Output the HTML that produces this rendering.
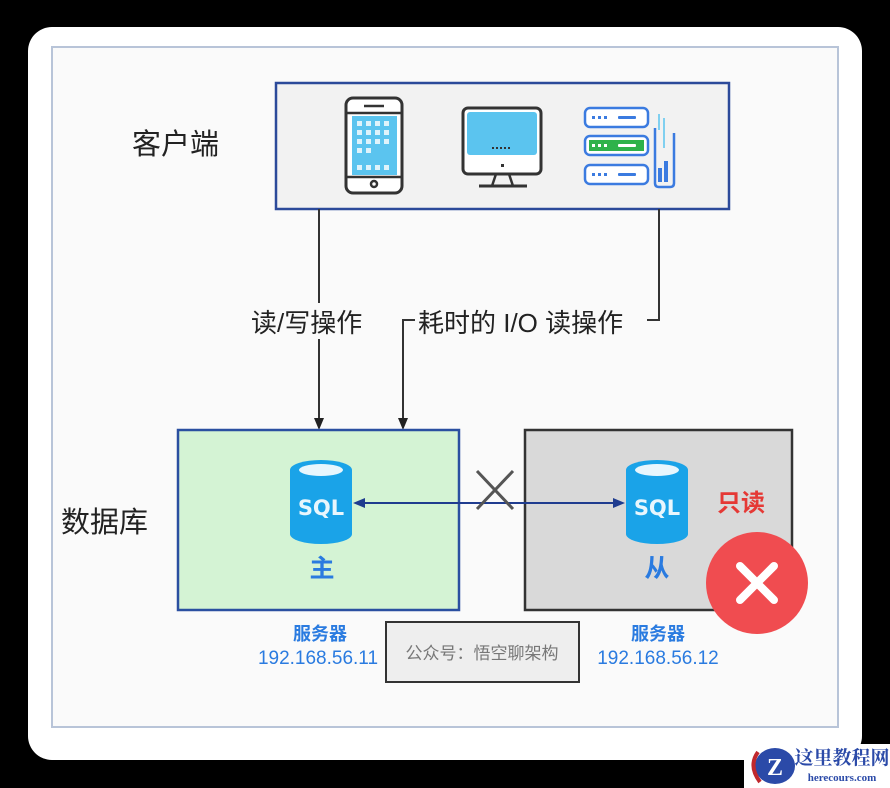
<!DOCTYPE html>
<html><head><meta charset="utf-8"><style>
html,body{margin:0;padding:0;background:#000;}
body{width:890px;height:788px;overflow:hidden;position:relative;font-family:"Liberation Sans","Noto Sans CJK SC",sans-serif;}
</style></head><body>
<svg width="890" height="788" viewBox="0 0 890 788" xmlns="http://www.w3.org/2000/svg" style="position:absolute;left:0;top:0">
<rect x="0" y="0" width="890" height="788" fill="#000"/>
<rect x="28" y="27" width="834" height="733" rx="24" fill="#fff"/>
<rect x="52" y="47" width="786" height="680" fill="#fafafa" stroke="#b8c4d8" stroke-width="2"/>
<g font-family="Liberation Sans, Noto Sans CJK SC, sans-serif">
<text x="132" y="154" font-size="29" fill="#222">客户端</text>
<text x="61" y="532" font-size="29" fill="#222">数据库</text>
</g>
<rect x="276" y="83" width="453" height="126" fill="#f2f2f2" stroke="#2c4a9a" stroke-width="2.5"/>
<rect x="346" y="98" width="56" height="95" rx="7" fill="#fff" stroke="#333" stroke-width="3"/>
<line x1="346" y1="113" x2="402" y2="113" stroke="#333" stroke-width="2.5"/>
<line x1="346" y1="177" x2="402" y2="177" stroke="#333" stroke-width="2.5"/>
<line x1="364" y1="106" x2="384" y2="106" stroke="#333" stroke-width="2.5"/>
<rect x="352" y="116" width="45" height="59" fill="#5bc4ef"/>
<g fill="#dff3fb">
<rect x="357" y="121" width="5" height="5"/><rect x="366" y="121" width="5" height="5"/><rect x="375" y="121" width="5" height="5"/><rect x="384" y="121" width="5" height="5"/>
<rect x="357" y="130" width="5" height="5"/><rect x="366" y="130" width="5" height="5"/><rect x="375" y="130" width="5" height="5"/><rect x="384" y="130" width="5" height="5"/>
<rect x="357" y="139" width="5" height="5"/><rect x="366" y="139" width="5" height="5"/><rect x="375" y="139" width="5" height="5"/><rect x="384" y="139" width="5" height="5"/>
<rect x="357" y="148" width="5" height="5"/><rect x="366" y="148" width="5" height="5"/>
<rect x="357" y="165" width="5" height="5"/><rect x="366" y="165" width="5" height="5"/><rect x="375" y="165" width="5" height="5"/><rect x="384" y="165" width="5" height="5"/>
</g>
<circle cx="374" cy="184" r="3" fill="none" stroke="#333" stroke-width="2.5"/>
<rect x="463" y="108" width="78" height="66" rx="5" fill="#fff" stroke="#333" stroke-width="3"/>
<rect x="467" y="112" width="70" height="43" rx="3" fill="#5bc4ef"/>
<g fill="#333"><rect x="492" y="147" width="2" height="2"/><rect x="496" y="147" width="2" height="2"/><rect x="500" y="147" width="2" height="2"/><rect x="504" y="147" width="2" height="2"/><rect x="508" y="147" width="2" height="2"/></g>
<rect x="501" y="164" width="3" height="3" fill="#333"/>
<path d="M496 174 L492 186 M509 174 L513 186" stroke="#333" stroke-width="2.5"/>
<line x1="479" y1="186" x2="527" y2="186" stroke="#333" stroke-width="3"/>
<g stroke="#3b7be0" stroke-width="2.5" fill="#fff">
<rect x="585" y="108" width="63" height="19" rx="5"/>
<rect x="585" y="136" width="63" height="19" rx="5"/>
<rect x="585" y="165" width="63" height="19" rx="5"/>
<path d="M655 128 L655 183 Q655 187 659 187 L670 187 Q674 187 674 183 L674 133" fill="none"/>
</g>
<rect x="589" y="140" width="55" height="11" fill="#2fb24a"/>
<g fill="#3b7be0"><rect x="592" y="116" width="3" height="3"/><rect x="598" y="116" width="3" height="3"/><rect x="604" y="116" width="3" height="3"/><rect x="618" y="116" width="18" height="3" rx="1"/>
<rect x="592" y="173" width="3" height="3"/><rect x="598" y="173" width="3" height="3"/><rect x="604" y="173" width="3" height="3"/><rect x="618" y="173" width="18" height="3" rx="1"/>
<rect x="658" y="168" width="4" height="14"/><rect x="664" y="161" width="4" height="21"/></g>
<g fill="#fff"><rect x="592" y="144" width="3" height="3"/><rect x="598" y="144" width="3" height="3"/><rect x="604" y="144" width="3" height="3"/><rect x="618" y="144" width="18" height="3" rx="1"/></g>
<path d="M659 114 L659 130 M664 118 L664 148" stroke="#5bc4ef" stroke-width="1.5"/>
<g stroke="#333" stroke-width="2" fill="none">
<line x1="319" y1="209" x2="319" y2="420"/>
<path d="M659 209 L659 320 L647 320"/>
<path d="M415 320 L403 320 L403 420"/>
</g>
<path d="M314 418 L319 430 L324 418 Z M398 418 L403 430 L408 418 Z" fill="#222"/>
<rect x="248" y="303" width="136" height="36" fill="#fafafa"/>
<text x="251" y="332" font-size="26" fill="#222" font-family="Liberation Sans, Noto Sans CJK SC, sans-serif">读/写操作</text>
<text x="418" y="332" font-size="26" fill="#222" font-family="Liberation Sans, Noto Sans CJK SC, sans-serif">耗时的 I/O 读操作</text>
<rect x="178" y="430" width="281" height="180" fill="#d4f3d4" stroke="#2a4fa0" stroke-width="2.5"/>
<rect x="525" y="430" width="267" height="180" fill="#d9d9d9" stroke="#333" stroke-width="2.5"/>
<g>
<path d="M290 470 L290 534 A31 10 0 0 0 352 534 L352 470 A31 10 0 0 0 290 470 Z" fill="#1aa3e8"/>
<ellipse cx="321" cy="470" rx="22" ry="6" fill="#e8f6fd"/>
<text x="321" y="515" font-size="21" font-weight="bold" fill="#e8f6fd" text-anchor="middle" font-family="DejaVu Sans, sans-serif">SQL</text>
<path d="M626 470 L626 534 A31 10 0 0 0 688 534 L688 470 A31 10 0 0 0 626 470 Z" fill="#1aa3e8"/>
<ellipse cx="657" cy="470" rx="22" ry="6" fill="#e8f6fd"/>
<text x="657" y="515" font-size="21" font-weight="bold" fill="#e8f6fd" text-anchor="middle" font-family="DejaVu Sans, sans-serif">SQL</text>
</g>
<line x1="362" y1="503" x2="616" y2="503" stroke="#1f3c8f" stroke-width="2"/>
<path d="M353 503 L365 498 L365 508 Z M625 503 L613 498 L613 508 Z" fill="#1f3c8f"/>
<path d="M477 471 L513 509 M513 471 L477 509" stroke="#555" stroke-width="3"/>
<g font-family="Liberation Sans, Noto Sans CJK SC, sans-serif">
<text x="322" y="577" font-size="25" font-weight="bold" fill="#2a7be0" text-anchor="middle">主</text>
<text x="657" y="577" font-size="25" font-weight="bold" fill="#2a7be0" text-anchor="middle">从</text>
<text x="741" y="511" font-size="24" font-weight="bold" fill="#e53935" text-anchor="middle">只读</text>
</g>
<circle cx="757" cy="583" r="51" fill="#f04c50"/>
<path d="M740 566 L774 600 M774 566 L740 600" stroke="#fff" stroke-width="8" stroke-linecap="round"/>
<g font-family="Liberation Sans, Noto Sans CJK SC, sans-serif" fill="#2a7be0" text-anchor="middle">
<text x="320" y="640" font-size="18" font-weight="bold">服务器</text>
<text x="318" y="664" font-size="19">192.168.56.11</text>
<text x="658" y="640" font-size="18" font-weight="bold">服务器</text>
<text x="658" y="664" font-size="19">192.168.56.12</text>
</g>
<rect x="386" y="622" width="193" height="60" fill="#eeeeee" stroke="#333" stroke-width="2"/>
<text x="482" y="659" font-size="17" fill="#777" text-anchor="middle" font-family="Liberation Sans, Noto Sans CJK SC, sans-serif">公众号：悟空聊架构</text>
<rect x="744" y="744" width="146" height="44" fill="#fff"/>
<ellipse cx="775" cy="766" rx="20" ry="18" fill="#2b4aa8"/>
<text x="775" y="775" font-size="24" font-weight="bold" fill="#fff" text-anchor="middle" font-family="Liberation Serif, serif">Z</text>
<path d="M758 752 Q748 766 760 782" stroke="#c0282d" stroke-width="4" fill="none"/>
<text x="842" y="764" font-size="19" font-weight="bold" fill="#2b4aa8" text-anchor="middle" font-family="Liberation Serif, Noto Serif CJK SC, serif">这里教程网</text>
<text x="842" y="781" font-size="11" font-weight="bold" fill="#2b4aa8" text-anchor="middle" font-family="Liberation Serif, serif">herecours.com</text>
</svg>
</body></html>
